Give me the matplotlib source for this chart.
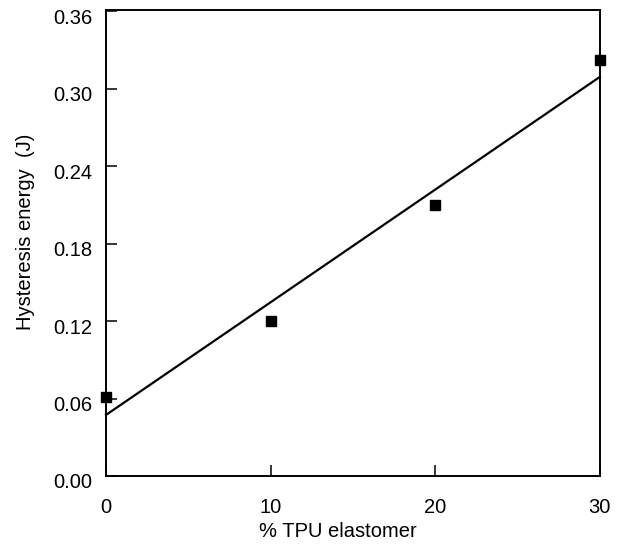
import numpy as np
import matplotlib
matplotlib.use("Agg")
import matplotlib.pyplot as plt
import matplotlib.transforms as mtransforms

tpu_pct = [0, 10, 20, 30]
hysteresis = [0.061, 0.120, 0.210, 0.322]
x_ticks = [0, 10, 20, 30]
y_ticks = [0.00, 0.06, 0.12, 0.18, 0.24, 0.30, 0.36]

plt.rcParams['font.family'] = ['Liberation Sans', 'DejaVu Sans']

fig = plt.figure(figsize=(6.22, 5.44), dpi=100)
ax = fig.add_axes([0.1704, 0.125, 0.794, 0.857])

slope, intercept = np.polyfit(tpu_pct, hysteresis, 1)
xf = np.array([0, 30])
ax.plot(xf, slope * xf + intercept, color='black', lw=1.6, clip_on=False)
ax.plot(tpu_pct, hysteresis, 's', color='black', ms=7.5, clip_on=False, zorder=5)

ax.set_xlim(0, 30)
ax.set_ylim(0, 0.3612)
ax.set_xticks(x_ticks)
ax.set_yticks(y_ticks)
ax.set_yticklabels([f"{v:.2f}" for v in y_ticks])
ax.tick_params(direction='in', length=8, width=1.1, labelsize=14.5)
ax.tick_params(axis='x', pad=16)
ax.tick_params(axis='y', pad=10)
shift = mtransforms.ScaledTranslation(0, -5 / 100, fig.dpi_scale_trans)
for lbl in ax.get_yticklabels():
    lbl.set_transform(lbl.get_transform() + shift)
for s in ax.spines.values():
    s.set_linewidth(1.4)
ax.set_xlabel('% TPU elastomer', fontsize=14.5, va='center')
ax.xaxis.set_label_coords(0.47, -0.118)
ax.set_ylabel('Hysteresis energy  (J)', fontsize=14.5, va='center')
ax.yaxis.set_label_coords(-0.162, 0.524)

fig.savefig('out.png', dpi=100)
